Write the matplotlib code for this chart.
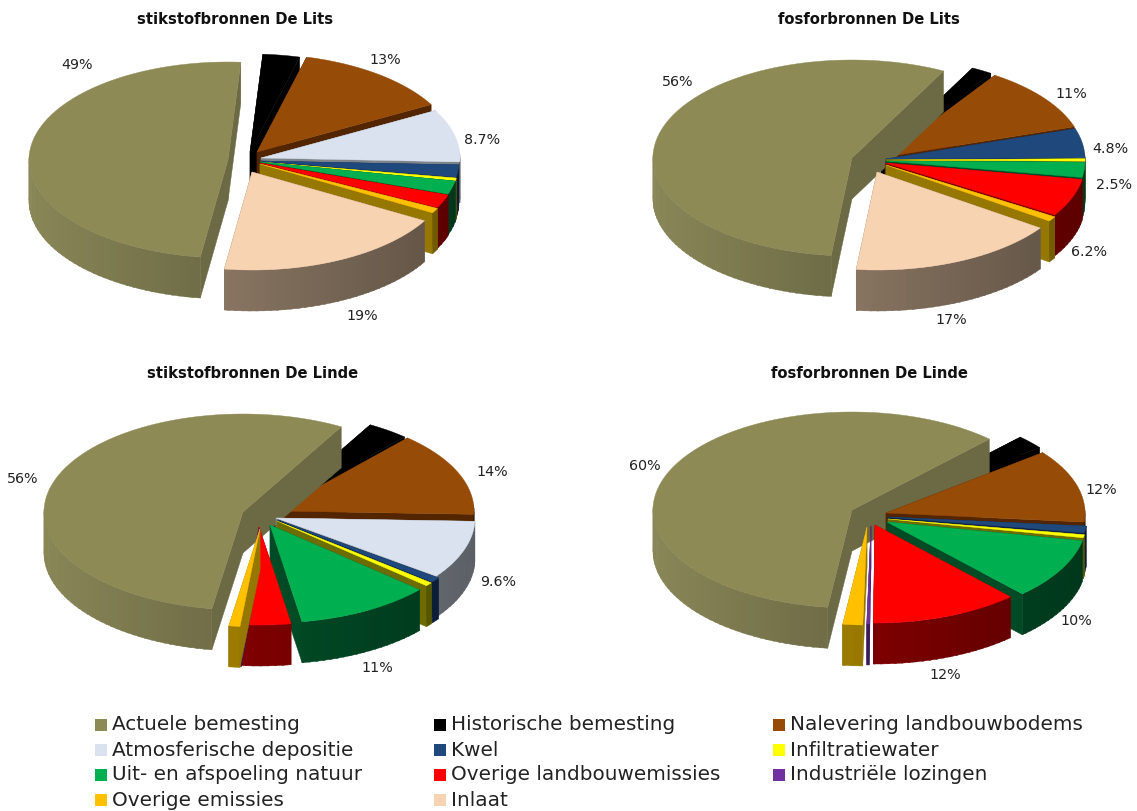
import numpy as np
import matplotlib
matplotlib.use("Agg")
import matplotlib.pyplot as plt
from matplotlib.colors import to_rgb

categories = ["Actuele bemesting", "Historische bemesting", "Nalevering landbouwbodems",
              "Atmosferische depositie", "Kwel", "Infiltratiewater",
              "Uit- en afspoeling natuur", "Overige landbouwemissies", "Industriële lozingen",
              "Overige emissies", "Inlaat"]

# shares in percent (same order as categories)
n_lits = [49, 3, 13, 8.7, 2, 0.5, 2.2, 2.2, 0, 0.8, 19]
p_lits = [56, 1.7, 10.7, 0, 4.8, 0.4, 2.5, 6.2, 0, 0.8, 17]
n_linde = [56, 3.4, 14, 9.6, 0.8, 0.6, 11, 4.0, 0.2, 0.9, 0]
p_linde = [60, 2.3, 12, 0, 1.1, 0.5, 10, 12, 0.2, 1.6, 0]

titles = ["stikstofbronnen De Lits", "fosforbronnen De Lits",
          "stikstofbronnen De Linde", "fosforbronnen De Linde"]

labels_n_lits = ["49%", "13%", "8.7%", "19%"]
labels_p_lits = ["56%", "11%", "4.8%", "2.5%", "6.2%", "17%"]
labels_n_linde = ["56%", "14%", "9.6%", "11%"]
labels_p_linde = ["60%", "12%", "10%", "12%"]

top_colors = ["#8E8A56", "#000000", "#964B06", "#D9E2EE", "#1F497D", "#FFFF00",
              "#00B050", "#FF0000", "#7030A0", "#FFC000", "#F8D3B2"]
wall_colors = ["#8A8758", "#000000", "#6A3000", "#A0A8B2", "#14305A", "#8A8A00",
               "#006030", "#A00000", "#4A2070", "#C09800", "#A89078"]

RX, RY, DEPTH = 199, 98, 41

# layout: centre, first angle, slice offsets, label positions
panels = [
    dict(vals=n_lits, c=(260, 160), first=-98, title_xy=(235, 20), labels=labels_n_lits,
         label_xy=[(77, 65), (385, 60), (482, 140), (362, 316)],
         off=[(-32, 0), (-10, -8), (-3, -8), (1, -2), (0, 1), (0, 2), (0, 2), (0, 3), (0, 3), (0, 4), (-8, 12)]),
    dict(vals=p_lits, c=(885, 160), first=-96, title_xy=(869, 20), labels=labels_p_lits,
         label_xy=[(678, 82), (1071, 94), (1110, 149), (1114, 185), (1089, 252), (951, 320)],
         off=[(-33, -2), (-4, -5), (0, -3), (0, 0), (1, -1), (1, 0), (1, 1), (1, 3), (1, 4), (1, 5), (-8, 12)]),
    dict(vals=n_linde, c=(275, 518), first=-99, title_xy=(253, 373), labels=labels_n_linde,
         label_xy=[(23, 479), (492, 472), (498, 582), (377, 668)],
         off=[(-32, -6), (-3, -8), (0, -7), (1, 0), (3, 2), (2, 3), (-5, 7), (-16, 9), (-16, 10), (-15, 11), (0, 0)]),
    dict(vals=p_linde, c=(888, 513), first=-97, title_xy=(869, 373), labels=labels_p_linde,
         label_xy=[(645, 466), (1101, 490), (1076, 621), (945, 675)],
         off=[(-36, -3), (-5, -5), (-2, 0), (0, 0), (0, 4), (0, 6), (-1, 9), (-13, 12), (-17, 13), (-21, 14), (0, 0)]),
]

fig = plt.figure(figsize=(11.37, 8.11), dpi=100)
ax = fig.add_axes([0, 0, 1, 1])
ax.set_xlim(0, 1137)
ax.set_ylim(811, 0)
ax.axis("off")


def shade(color, f):
    return tuple(np.array(to_rgb(color)) * f)


def poly(xs, ys, color):
    ax.fill(xs, ys, facecolor=color, edgecolor=color, linewidth=0.3)


def draw_slice(cx, cy, a0, a1, i):
    # a0 > a1, going clockwise in degrees (y up on the ellipse)
    t = np.radians(np.linspace(a0, a1, max(int(a0 - a1) * 2, 4)))
    ex = cx + RX * np.cos(t)
    ey = cy - RY * np.sin(t)

    cut = shade(wall_colors[i], 0.78)
    poly([cx, ex[0], ex[0], cx], [cy, ey[0], ey[0] + DEPTH, cy + DEPTH], cut)
    poly([cx, ex[-1], ex[-1], cx], [cy, ey[-1], ey[-1] + DEPTH, cy + DEPTH], cut)

    # outer wall, only the part facing the viewer; strips overlap so no seams show
    for k in range(0, len(t) - 1, 4):
        k2 = min(k + 5, len(t) - 1)
        if np.sin(t[k]) < 0.02 or np.sin(t[k2]) < 0.02:
            f = 0.78 - 0.21 * np.cos((t[k] + t[k2]) / 2)
            seg_x, seg_y = ex[k:k2 + 1], ey[k:k2 + 1]
            poly(np.r_[seg_x, seg_x[::-1]], np.r_[seg_y, seg_y[::-1] + DEPTH],
                 shade(wall_colors[i], f))

    poly(np.r_[cx, ex], np.r_[cy, ey], top_colors[i])


for p in panels:
    vals = np.array(p["vals"], dtype=float)
    sweeps = vals / vals.sum() * 360
    starts = p["first"] - np.r_[0, np.cumsum(sweeps)[:-1]]
    order = []
    for i, s in enumerate(sweeps):
        if s == 0:
            continue
        mid = np.radians(starts[i] - s / 2)
        order.append((p["c"][1] + p["off"][i][1] - RY * np.sin(mid) * 0.6, i))
    # back slices first
    for _, i in sorted(order):
        draw_slice(p["c"][0] + p["off"][i][0], p["c"][1] + p["off"][i][1],
                   starts[i], starts[i] - sweeps[i], i)

    for txt, xy in zip(p["labels"], p["label_xy"]):
        ax.text(xy[0], xy[1], txt, ha="center", va="center", fontsize=10.3, color="#222222")

for p, title in zip(panels, titles):
    ax.text(p["title_xy"][0], p["title_xy"][1], title, ha="center", va="center",
            fontsize=10.6, fontweight="bold", color="#111111")

# legend, three columns filled row by row
col_x = [95, 434, 773]
row_y = [725, 750, 775, 800]
for i, name in enumerate(categories):
    x = col_x[i % 3]
    y = row_y[i // 3]
    ax.fill([x, x + 12, x + 12, x], [y - 6, y - 6, y + 6, y + 6], color=top_colors[i], linewidth=0)
    ax.text(x + 17, y, name, ha="left", va="center", fontsize=14.45, color="#222222")

fig.savefig("out.png", dpi=100)
